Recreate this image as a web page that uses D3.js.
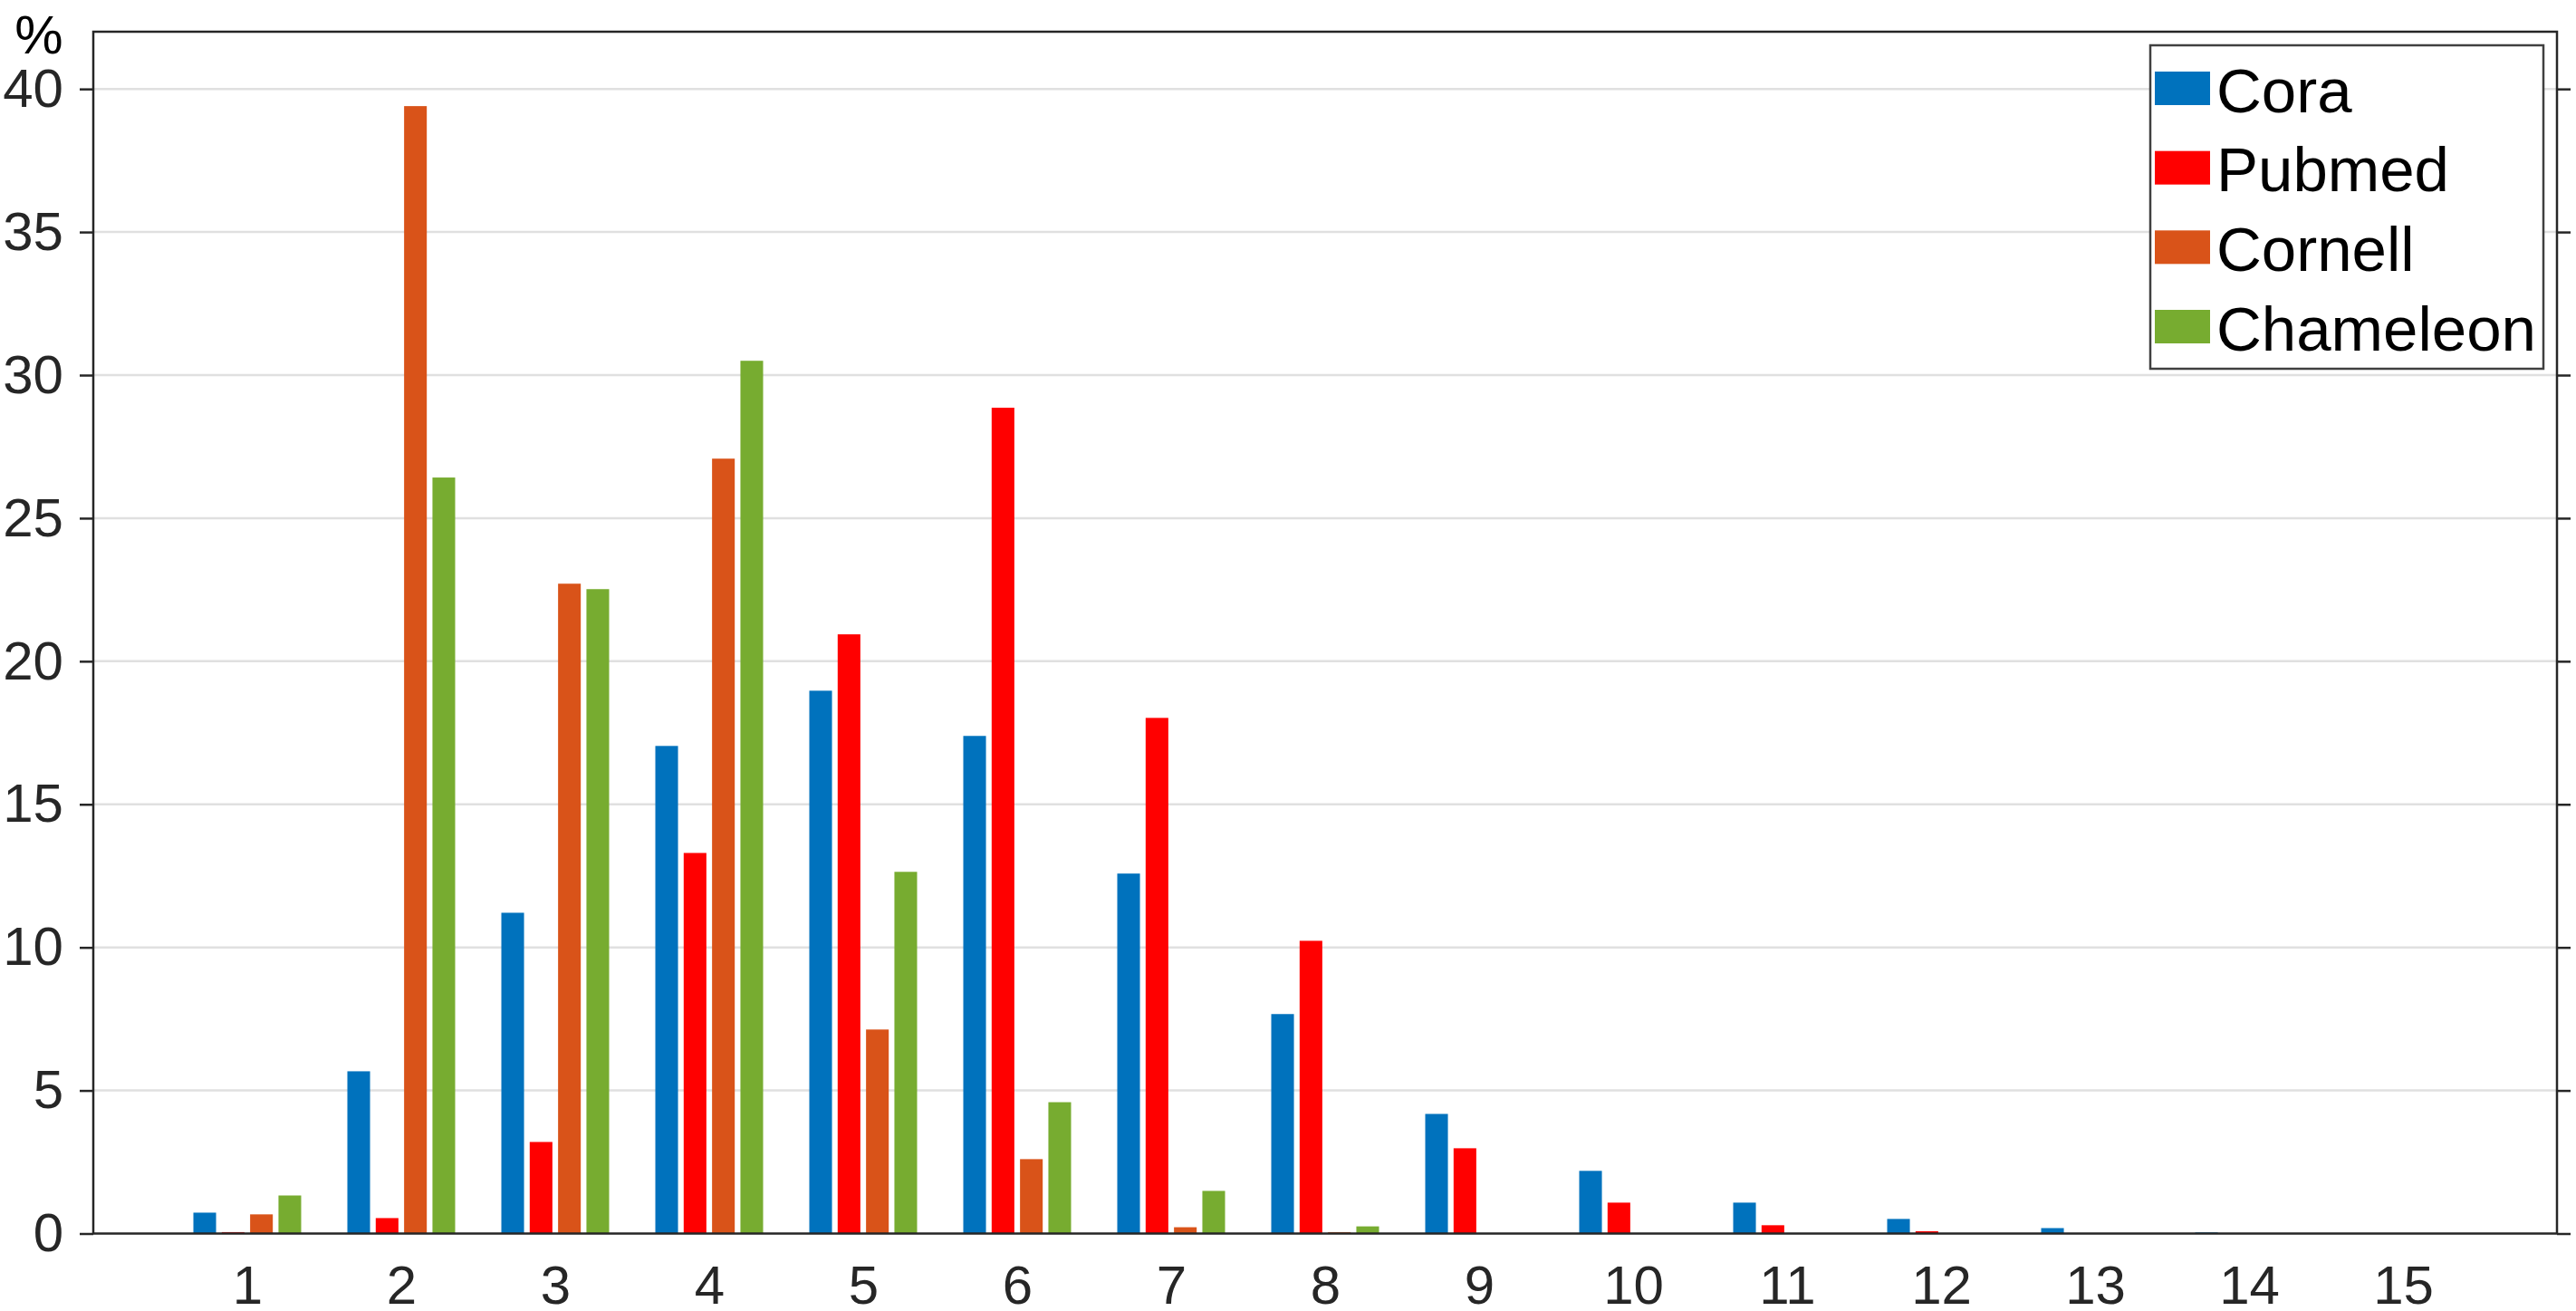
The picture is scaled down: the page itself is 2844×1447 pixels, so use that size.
<!DOCTYPE html>
<html>
<head>
<meta charset="utf-8">
<script src="https://cdn.jsdelivr.net/npm/d3@7"></script>
<style>
  html, body { margin: 0; padding: 0; background: #ffffff; }
  svg { display: block; }
  text { font-family: Arial, "Liberation Sans", Helvetica, sans-serif; }
</style>
</head>
<body>
<svg id="chart" width="2844" height="1447"></svg>
<script>
// ---- data ----
const categories = [1, 2, 3, 4, 5, 6, 7, 8, 9, 10, 11, 12, 13, 14, 15];
const seriesNames = ["Cora", "Pubmed", "Cornell", "Chameleon"];
const seriesColors = ["#0072BD", "#FF0000", "#D95319", "#77AC30"];
const cora      = [0.73, 5.67, 11.21, 17.04, 18.97, 17.39, 12.58, 7.67, 4.18, 2.19, 1.08, 0.51, 0.19, 0.04, 0];
const pubmed    = [0.05, 0.54, 3.20, 13.30, 20.94, 28.86, 18.02, 10.23, 2.98, 1.08, 0.29, 0.08, 0, 0, 0];
const cornell   = [0.67, 39.40, 22.71, 27.08, 7.13, 2.60, 0.22, 0.05, 0, 0, 0, 0, 0, 0, 0];
const chameleon = [1.33, 26.42, 22.52, 30.50, 12.64, 4.59, 1.49, 0.25, 0, 0, 0, 0, 0, 0, 0];
const yTicks = [0, 5, 10, 15, 20, 25, 30, 35, 40];
const yUnitLabel = "%";

const seriesValues = [cora, pubmed, cornell, chameleon];
const rows = categories.map((c, i) => {
  const r = { cat: c };
  seriesNames.forEach((s, k) => { r[s] = seriesValues[k][i]; });
  return r;
});

// ---- layout ----
const svg = d3.select("#chart");
const L = 103, R = 2823, T = 35, B = 1361.5;
const axisColor = "#262626";

const x = d3.scaleLinear().domain([0, 16]).range([L, R]);
const y = d3.scaleLinear().domain([0, 42]).range([B, T]);
const unit = x(1) - x(0);
const xSub = d3.scaleBand().domain(seriesNames)
  .range([-0.35 * unit, 0.35 * unit]).paddingInner(0.2);
const color = d3.scaleOrdinal().domain(seriesNames).range(seriesColors);

// gridlines
svg.append("g").selectAll("line").data(yTicks.filter(d => d > 0)).join("line")
  .attr("x1", L).attr("x2", R)
  .attr("y1", d => y(d)).attr("y2", d => y(d))
  .attr("stroke", "#e0e0e0").attr("stroke-width", 2.5);

// bars
svg.append("g").selectAll("g").data(rows).join("g")
  .attr("transform", d => `translate(${x(d.cat)},0)`)
  .selectAll("rect")
  .data(d => seriesNames.map(s => ({ key: s, value: d[s] })))
  .join("rect")
  .attr("x", d => xSub(d.key))
  .attr("width", xSub.bandwidth())
  .attr("y", d => y(d.value))
  .attr("height", d => y(0) - y(d.value))
  .attr("fill", d => color(d.key));

// left axis
const gy = svg.append("g").attr("transform", `translate(${L},0)`)
  .call(d3.axisLeft(y).tickValues(yTicks).tickSize(15).tickPadding(18).tickFormat(d3.format("d")));
gy.select(".domain").remove();
gy.selectAll(".tick line").attr("stroke", axisColor).attr("stroke-width", 2.5);
gy.selectAll(".tick text").attr("fill", axisColor).attr("font-size", 60)
  .attr("font-family", "Arial, 'Liberation Sans', sans-serif");

// right axis (ticks only)
const gr = svg.append("g").attr("transform", `translate(${R},0)`)
  .call(d3.axisRight(y).tickValues(yTicks).tickSize(15).tickFormat(""));
gr.select(".domain").remove();
gr.selectAll(".tick line").attr("stroke", axisColor).attr("stroke-width", 2.5);

// bottom axis
const gx = svg.append("g").attr("transform", `translate(0,${B})`)
  .call(d3.axisBottom(x).tickValues(categories).tickSize(0).tickPadding(35).tickFormat(d3.format("d")));
gx.select(".domain").remove();
gx.selectAll(".tick text").attr("fill", axisColor).attr("font-size", 60)
  .attr("font-family", "Arial, 'Liberation Sans', sans-serif");

// axes box
svg.append("rect").attr("x", L).attr("y", T).attr("width", R - L).attr("height", B - T)
  .attr("fill", "none").attr("stroke", axisColor).attr("stroke-width", 2.5);

// unit label
svg.append("text").attr("x", 43).attr("y", 59).attr("text-anchor", "middle")
  .attr("font-size", 60).attr("fill", "#000").text(yUnitLabel);

// legend
const legX = 2374, legY = 50, legW = 434, legH = 357;
const leg = svg.append("g");
leg.append("rect").attr("x", legX).attr("y", legY).attr("width", legW).attr("height", legH)
  .attr("fill", "#ffffff").attr("stroke", "#404040").attr("stroke-width", 2.5);
const rowY = d3.scalePoint().domain(seriesNames).range([97.5, 360.5]);
const items = leg.selectAll("g.item").data(seriesNames).join("g").attr("class", "item");
items.append("rect").attr("x", legX + 5).attr("y", d => rowY(d) - 18.5)
  .attr("width", 61).attr("height", 37).attr("fill", d => color(d));
items.append("text").attr("x", legX + 73).attr("y", d => rowY(d) + 26)
  .attr("font-size", 69).attr("fill", "#000").text(d => d);
</script>
</body>
</html>
